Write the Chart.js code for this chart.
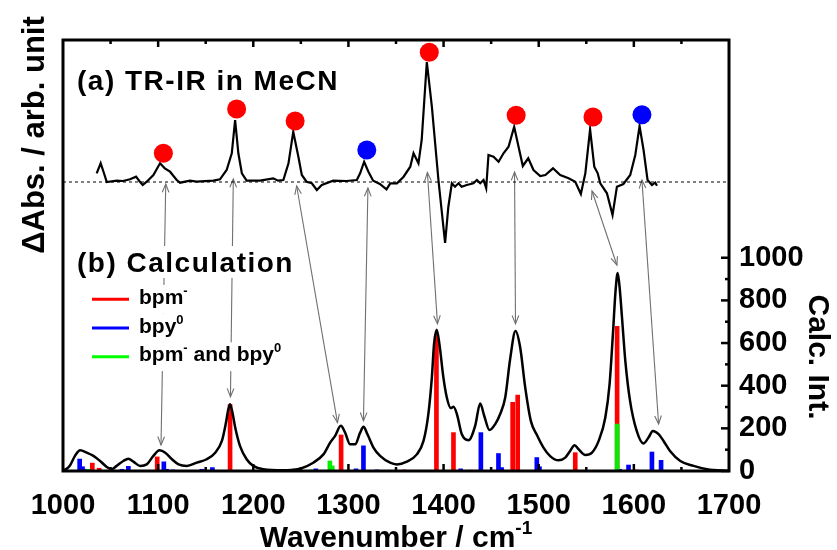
<!DOCTYPE html>
<html><head><meta charset="utf-8">
<script src="https://cdn.jsdelivr.net/npm/chart.js@4/dist/chart.umd.min.js"></script>
<style>html,body{margin:0;padding:0;background:#fff}#wrap{width:837px;height:550px}</style>
</head><body><div id="wrap"><canvas id="c" width="837" height="550"></canvas></div>
<script>
// ---------- DATA ----------
// (a) TR-IR difference spectrum (arb. units)
const trirWavenumber = [1035.4,1039.6,1043,1046,1056.4,1063,1070.5,1076.8,1080,1083.8,1088,1095,1102,1107,1112.5,1119.5,1123,1133.5,1140.6,1158,1165,1172,1177.4,1180.9,1184.3,1188,1193,1207,1221,1226,1231.6,1237,1242,1247.4,1251,1256,1261.5,1266.8,1272,1284,1298,1308.8,1312.3,1316.5,1321,1326,1333,1340,1344,1351,1358,1365,1368.4,1373.6,1377,1382.4,1387.7,1394.6,1401.6,1405,1408.7,1412,1415.7,1419,1424.4,1431.4,1435,1438.5,1442,1444.8,1447.2,1452.5,1457.8,1463,1468.3,1474.2,1478.8,1483.3,1489,1494.5,1501.6,1507,1515,1522.6,1531.4,1538.4,1544.3,1549,1554,1558.4,1562,1564.7,1571.7,1577.6,1582.2,1589,1596.2,1601.5,1606,1610.2,1614.4,1619,1622.5,1624.3];
const trirSignal = [0.087,0.187,0.09,0.0,0.013,0.01,0.027,0.053,0.013,-0.03,0.003,0.07,0.187,0.137,0.103,0.02,-0.007,0.013,0.003,0.013,0.027,0.12,0.287,0.62,0.287,0.087,0.013,0.013,0.037,0.013,0.02,0.187,0.503,0.253,0.07,0.003,-0.013,-0.08,-0.03,0.013,0.01,0.02,0.087,0.203,0.103,0.013,-0.02,-0.073,-0.013,-0.013,0.053,0.153,0.287,0.187,0.42,1.2,0.753,0.02,-0.61,-0.25,-0.013,-0.047,-0.013,-0.047,-0.03,-0.013,0.02,-0.013,0.02,-0.063,0.27,0.253,0.203,0.287,0.353,0.553,0.353,0.16,0.237,0.12,0.06,0.07,0.137,0.07,0.037,0.003,-0.12,0.087,0.527,0.153,0.087,-0.013,-0.113,-0.33,-0.047,-0.02,0.07,0.27,0.56,0.32,0.02,-0.03,-0.007,-0.037];
// peak markers on the TR-IR trace
const bpmMarkerWavenumber = [1105.5,1182.5,1244,1385,1476.3,1557];
const bpmMarkerSignal = [0.287,0.73,0.61,1.297,0.667,0.65];
const bpyMarkerWavenumber = [1319.3,1608.5];
const bpyMarkerSignal = [0.32,0.673];

// (b) calculated spectrum envelope
const calcWavenumber = [1000,1007,1012.6,1018,1025,1032,1039,1046,1051,1056.4,1063.4,1068.7,1074,1081,1088,1095,1101.5,1107.5,1114.5,1121.5,1130,1140.6,1151,1160,1167,1171,1173.8,1175.6,1178.4,1181,1186,1193,1200,1210.6,1231.6,1240,1250,1263,1273.7,1280.8,1286,1292,1296.5,1301.8,1307,1312.3,1315.8,1320,1326.3,1333.3,1343.8,1351,1361.4,1371.9,1378.9,1384,1387.7,1390,1392.8,1395.6,1399.8,1403.4,1407.6,1410.4,1414,1419.2,1426.2,1433.2,1438.5,1442.7,1448.3,1454.3,1459.5,1464.8,1470,1475.6,1480.5,1485.8,1491.7,1498,1505,1512,1520.8,1527.9,1533,1537.7,1541.9,1549,1556,1563,1570,1574.5,1578,1580.8,1583,1585,1587.5,1591,1596,1603,1610,1615.4,1620,1626,1631.2,1638,1648.8,1662.8,1677,1700];
const calcIntensity = [0,24,71,97,86,71,47,19,8,24,47,58,44,24,31,71,97,86,55,31,24,39,55,86,141,220,290,313,267,204,118,55,24,8,3,5,12,39,78,133,165,212,180,125,125,180,207,172,110,71,39,31,44,78,141,267,439,596,662,596,439,345,295,301,267,172,144,212,317,259,192,220,267,345,526,656,580,392,235,170,110,70,50,63,94,121,102,75,86,141,251,408,643,847,929,863,722,518,329,188,129,157,188,173,141,94,47,24,8,0];
// stick spectra
const bpmStickWavenumber = [1030.8,1038,1099,1175.6,1292.3,1358.6,1392.5,1410.4,1428.6,1472.6,1477.9,1538.4,1582.4,1602.5];
const bpmStickIntensity = [37,13,66,312,169,5,640,180,4,322,356,86,678,5];
const bpyStickWavenumber = [1017.5,1020.5,1023,1062,1068.7,1106,1109,1115.5,1120,1146,1157,1265.7,1308,1315.8,1329.8,1418,1439.2,1457.7,1461,1498,1500.8,1585,1594.4,1619,1628.6];
const bpyStickIntensity = [56,20,8,8,22,43,8,5,3,8,16,10,10,118,5,10,180,82,16,63,20,8,28,89,50];
const bothStickWavenumber = [1026.6,1261.5,1280.5,1283,1582.4];
const bothStickIntensity = [8,5,47,24,220];

// assignment arrows: TR-IR band -> calculated band
const arrowFromWavenumber = [1108,1179,1245.6,1320.5,1383,1474.6,1556,1608.5];
const arrowFromSignal = [-0.02,0.03,-0.04,-0.06,0.095,0.10,-0.09,0.02];
const arrowToWavenumber = [1103,1176,1288.5,1315.8,1393.6,1475.6,1582.2,1626];
const arrowToIntensity = [122,348,227,235,690,690,965,220];

// axes / ticks
const xTickValues = [1000,1100,1200,1300,1400,1500,1600,1700];
const xMinorStep = 50;
const calcTickValues = [0,200,400,600,800,1000];
const calcMinorStep = 100;
const xTitle = [{t:'Wavenumber / cm'},{t:'-1',sup:true}];
const leftTitle = 'ΔAbs. / arb. unit';
const rightTitle = 'Calc. Int.';
const panelA = '(a) TR-IR in MeCN';
const panelB = '(b) Calculation';
const legendItems = [
  {parts:[{t:'bpm'},{t:'-',sup:true}], color:'#ff0000'},
  {parts:[{t:'bpy'},{t:'0',sup:true}], color:'#0000ff'},
  {parts:[{t:'bpm'},{t:'-',sup:true},{t:' and bpy'},{t:'0',sup:true}], color:'#00ff00'}
];

// ---------- CHART ----------
const FONT = "'Liberation Sans', Arial, sans-serif";
const zip = (xs, ys) => xs.map((x, i) => ({x, y: ys[i]}));

function drawRich(ctx, parts, x, y, size) {
  let cx = x;
  for (const p of parts) {
    const s = p.sup ? Math.round(size * 0.62) : size;
    ctx.font = `bold ${s}px ${FONT}`;
    ctx.fillText(p.t, cx, p.sup ? y - size * 0.42 : y);
    cx += ctx.measureText(p.t).width;
  }
  return cx - x;
}
function richWidth(ctx, parts, size) {
  let w = 0;
  for (const p of parts) {
    const s = p.sup ? Math.round(size * 0.62) : size;
    ctx.font = `bold ${s}px ${FONT}`;
    w += ctx.measureText(p.t).width;
  }
  return w;
}
function arrowHead(ctx, px, py, fx, fy) {
  const ang = Math.atan2(py - fy, px - fx);
  const L = 9, a = 0.38;
  ctx.beginPath();
  ctx.moveTo(px - L * Math.cos(ang - a), py - L * Math.sin(ang - a));
  ctx.lineTo(px, py);
  ctx.lineTo(px - L * Math.cos(ang + a), py - L * Math.sin(ang + a));
  ctx.stroke();
}

const decor = {
  id: 'decor',
  beforeDatasetsDraw(chart) {
    const {ctx} = chart;
    const x = chart.scales.x, yAbs = chart.scales.yAbs, yCalc = chart.scales.yCalc;
    ctx.save();
    ctx.strokeStyle = '#707070';
    ctx.lineWidth = 1.1;
    for (let i = 0; i < arrowFromWavenumber.length; i++) {
      const x1 = x.getPixelForValue(arrowFromWavenumber[i]);
      const y1 = yAbs.getPixelForValue(arrowFromSignal[i]);
      const x2 = x.getPixelForValue(arrowToWavenumber[i]);
      const y2 = yCalc.getPixelForValue(arrowToIntensity[i]);
      ctx.beginPath(); ctx.moveTo(x1, y1); ctx.lineTo(x2, y2); ctx.stroke();
      arrowHead(ctx, x1, y1, x2, y2);
      arrowHead(ctx, x2, y2, x1, y1);
    }
    ctx.restore();
  },
  afterDatasetsDraw(chart) {
    const {ctx, chartArea: a} = chart;
    const x = chart.scales.x, yCalc = chart.scales.yCalc;
    ctx.save();
    // frame
    ctx.strokeStyle = '#000';
    ctx.lineWidth = 3;
    ctx.strokeRect(a.left, a.top, a.right - a.left, a.bottom - a.top);
    // inward ticks top & bottom
    ctx.lineWidth = 2.5;
    for (let v = xTickValues[0] + xMinorStep; v < xTickValues[xTickValues.length - 1]; v += xMinorStep) {
      const px = x.getPixelForValue(v);
      const len = (v % 100 === 0) ? 7 : 4;
      ctx.beginPath();
      ctx.moveTo(px, a.top); ctx.lineTo(px, a.top + len);
      ctx.moveTo(px, a.bottom); ctx.lineTo(px, a.bottom - len);
      ctx.stroke();
    }
    // inward ticks right axis
    for (let v = calcTickValues[0]; v <= calcTickValues[calcTickValues.length - 1]; v += calcMinorStep) {
      const py = yCalc.getPixelForValue(v);
      const len = calcTickValues.includes(v) ? 8 : 4;
      ctx.beginPath(); ctx.moveTo(a.right, py); ctx.lineTo(a.right - len, py); ctx.stroke();
    }
    ctx.fillStyle = '#000';
    ctx.textBaseline = 'alphabetic';
    ctx.textAlign = 'left';
    // panel headings
    ctx.font = `bold 28px ${FONT}`;
    try { ctx.letterSpacing = '1.5px'; } catch (e) {}
    ctx.fillText(panelA, 77, 90);
    const wb = ctx.measureText(panelB).width;
    ctx.fillStyle = '#fff';
    ctx.fillRect(75, 246, wb + 6, 32);
    ctx.fillStyle = '#000';
    ctx.fillText(panelB, 77, 272);
    try { ctx.letterSpacing = '0px'; } catch (e) {}
    // legend
    const rows = [299.3, 328, 356.7];
    legendItems.forEach((it, i) => {
      const ly = rows[i];
      const w = richWidth(ctx, it.parts, 21);
      ctx.fillStyle = '#fff';
      ctx.fillRect(88, ly - 14.4, 139 - 88 + w + 4, 28.8);
      ctx.strokeStyle = it.color;
      ctx.lineWidth = 3;
      ctx.beginPath(); ctx.moveTo(92, ly); ctx.lineTo(129, ly); ctx.stroke();
      ctx.fillStyle = '#000';
      drawRich(ctx, it.parts, 139, ly + 4.5, 21);
    });
    // x title
    const wt = richWidth(ctx, xTitle, 30);
    drawRich(ctx, xTitle, (a.left + a.right) / 2 - wt / 2, 547, 30);
    // left title
    ctx.font = `bold 31px ${FONT}`;
    ctx.textAlign = 'center';
    ctx.save();
    ctx.translate(44, 135);
    ctx.rotate(-Math.PI / 2);
    ctx.fillText(leftTitle, 0, 0);
    ctx.restore();
    // right title
    ctx.font = `bold 30px ${FONT}`;
    ctx.save();
    ctx.translate(809, 357);
    ctx.rotate(Math.PI / 2);
    ctx.fillText(rightTitle, 0, 0);
    ctx.restore();
    ctx.restore();
  }
};

const tickFont = {family: FONT, size: 29, weight: 'bold'};
new Chart(document.getElementById('c'), {
  type: 'scatter',
  data: {
    datasets: [
      {type: 'scatter', label: 'bpm- band', data: zip(bpmMarkerWavenumber, bpmMarkerSignal), yAxisID: 'yAbs',
       pointRadius: 9.5, pointBackgroundColor: '#ff0000', backgroundColor: '#ff0000', borderWidth: 0, pointBorderWidth: 0, order: 1},
      {type: 'scatter', label: 'bpy0 band', data: zip(bpyMarkerWavenumber, bpyMarkerSignal), yAxisID: 'yAbs',
       pointRadius: 9.5, pointBackgroundColor: '#0000ff', backgroundColor: '#0000ff', borderWidth: 0, pointBorderWidth: 0, order: 1},
      {type: 'line', label: 'TR-IR', data: zip(trirWavenumber, trirSignal), yAxisID: 'yAbs',
       borderColor: '#000', borderWidth: 2.2, pointRadius: 0, tension: 0, fill: false, order: 2},
      {type: 'line', label: 'zero', data: [{x: xTickValues[0], y: 0}, {x: xTickValues[xTickValues.length - 1], y: 0}], yAxisID: 'yAbs',
       borderColor: '#000', borderWidth: 1, borderDash: [3, 3], pointRadius: 0, fill: false, order: 4},
      {type: 'line', label: 'Calculation', data: zip(calcWavenumber, calcIntensity), yAxisID: 'yCalc',
       borderColor: '#000', borderWidth: 2.5, pointRadius: 0, cubicInterpolationMode: 'monotone', fill: false, order: 3},
      {type: 'bar', label: 'bpm- and bpy0', data: zip(bothStickWavenumber, bothStickIntensity), yAxisID: 'yCalc',
       backgroundColor: '#00ee00', barThickness: 4, grouped: false, order: 5},
      {type: 'bar', label: 'bpy0', data: zip(bpyStickWavenumber, bpyStickIntensity), yAxisID: 'yCalc',
       backgroundColor: '#0000ff', barThickness: 4, grouped: false, order: 6},
      {type: 'bar', label: 'bpm-', data: zip(bpmStickWavenumber, bpmStickIntensity), yAxisID: 'yCalc',
       backgroundColor: '#ff0000', barThickness: 4, grouped: false, order: 7}
    ]
  },
  options: {
    responsive: false,
    animation: false,
    devicePixelRatio: 1,
    layout: {padding: {top: 40, left: 0, right: 0, bottom: 0}},
    plugins: {legend: {display: false}, tooltip: {enabled: false}, title: {display: false}},
    scales: {
      x: {type: 'linear', position: 'bottom', min: 1000, max: 1700, offset: false,
          afterBuildTicks: s => { s.ticks = xTickValues.map(v => ({value: v})); },
          ticks: {font: tickFont, color: '#000', padding: 10, maxRotation: 0, autoSkip: false, callback: v => String(v)},
          grid: {display: false}, border: {display: false},
          afterFit: s => { s.height = 79; }},
      y: {display: false},
      yCalc: {type: 'linear', position: 'right', min: 0, max: 2021,
          afterBuildTicks: s => { s.ticks = calcTickValues.map(v => ({value: v})); },
          ticks: {font: tickFont, color: '#000', padding: 2, autoSkip: false, callback: v => String(v)},
          grid: {display: false}, border: {display: false},
          afterFit: s => { s.width = 108; }},
      yAbs: {type: 'linear', position: 'left', min: -2.89, max: 1.42,
          ticks: {display: false}, grid: {display: false}, border: {display: false},
          afterFit: s => { s.width = 63; }}
    }
  },
  plugins: [decor]
});
</script></body></html>
